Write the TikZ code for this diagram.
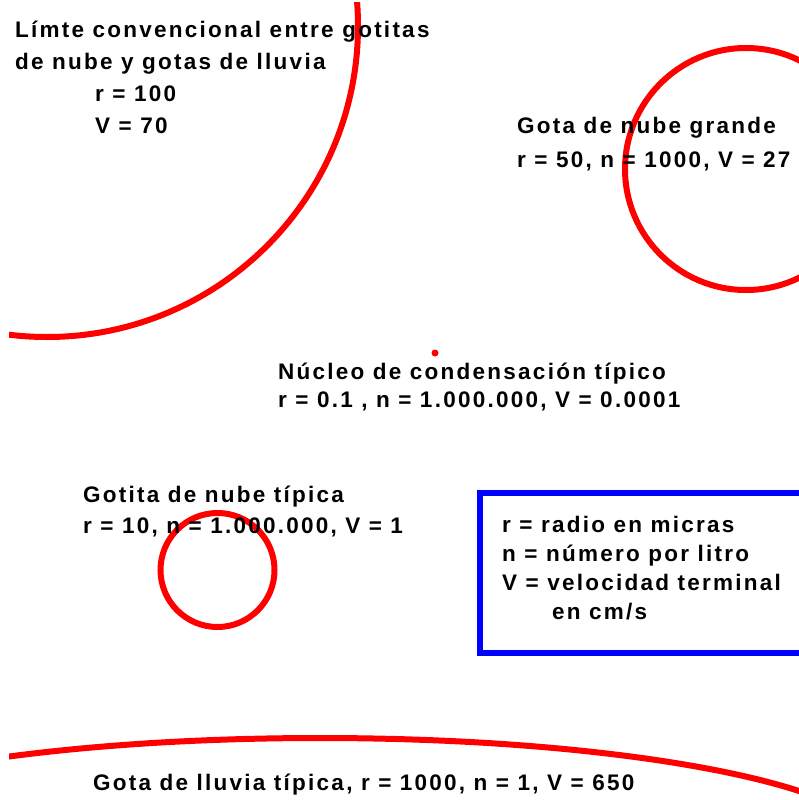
\documentclass[tikz,border=0pt]{standalone}
\usepackage{fontspec}
\setmainfont{Liberation Sans}[LetterSpace=10]
\usetikzlibrary{positioning}

\begin{document}
\begin{tikzpicture}[x=1pt,y=-1pt,
  label node/.style={anchor=base west,inner sep=0pt,align=left,
    font=\bfseries\fontsize{22.5}{31}\selectfont},
  drop line/.style={draw=red,line width=6pt},
  legend box/.style={draw=blue,line width=6pt}]

  \useasboundingbox (0,0) rectangle (799,800);

  \begin{scope}
    \clip (9,3) rectangle (799,800);
    \draw[drop line] (47,26) circle (311);
    \draw[drop line] (746,169) circle (121);
    \draw[drop line] (217.5,570) circle (57);
    \draw[drop line] (320,848) ellipse [x radius=560, y radius=110];
    \fill[red] (435,353) circle (3.5);
    \draw[legend box] (480,493) rectangle (810,653);
  \end{scope}

  % anchors sit on the baseline of the last line
  \node[label node,font=\bfseries\fontsize{22.5}{32}\selectfont] (1) at (15,133)
    {L\'imte convencional entre gotitas\\de nube y gotas de lluvia\\
     \hspace*{80pt}r = 100\\\hspace*{80pt}V = 70};
  \node[label node,font=\bfseries\fontsize{22.5}{34}\selectfont] (2) at (517,167)
    {Gota de nube grande\\r = 50, n = 1000, V = 27};
  \node[label node,font=\bfseries\fontsize{22.5}{28}\selectfont] (3) at (278,407)
    {N\'ucleo de condensaci\'on t\'ipico\\r = 0.1 , n = 1.000.000, V = 0.0001};
  \node[label node] (4) at (83,533)
    {Gotita de nube t\'ipica\\r = 10, n = 1.000.000, V = 1};
  \node[label node,font=\bfseries\fontsize{22.5}{29}\selectfont] (5) at (502,619)
    {r = radio en micras\\n = n\'umero por litro\\V = velocidad terminal\\
     \hspace*{50pt}en cm/s};
  \node[label node] (6) at (93,790)
    {Gota de lluvia t\'ipica, r = 1000, n = 1, V = 650};
\end{tikzpicture}
\end{document}
